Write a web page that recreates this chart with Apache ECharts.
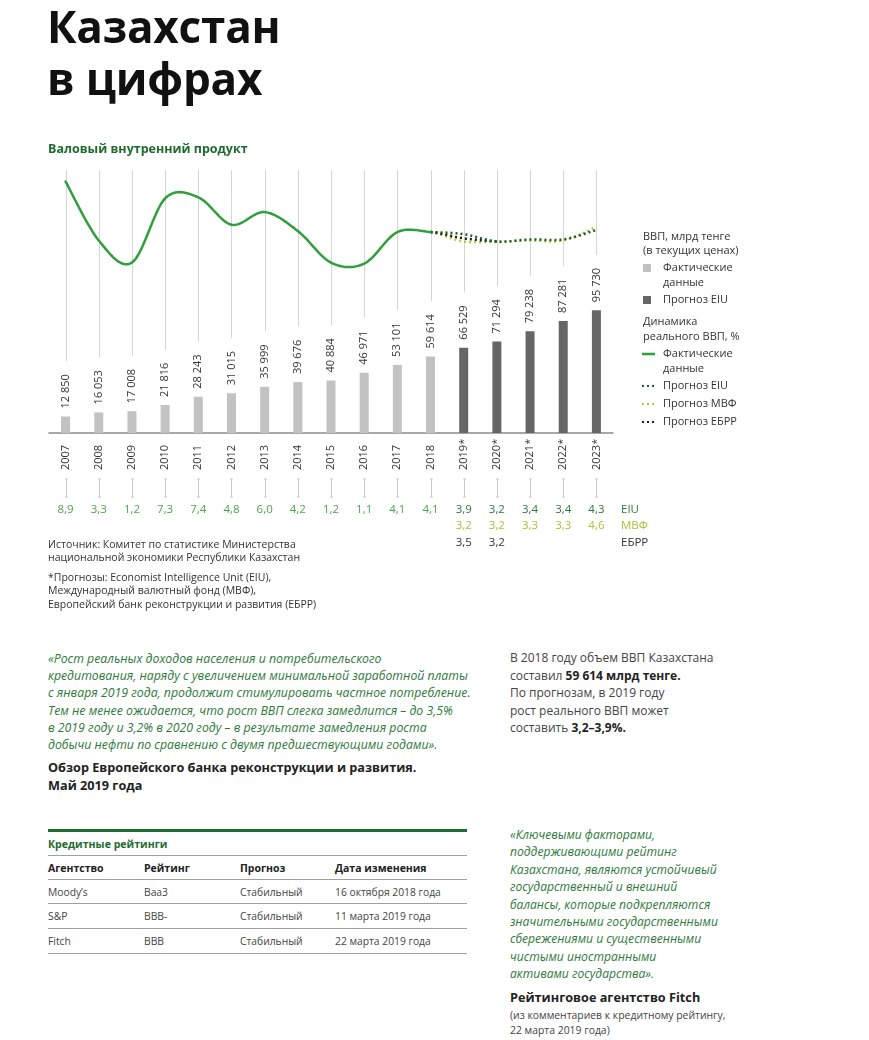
<!DOCTYPE html>
<html>
<head>
<meta charset="utf-8">
<script src="https://cdn.jsdelivr.net/npm/echarts@6/dist/echarts.min.js"></script>
<style>
  html,body{margin:0;padding:0;background:#fff;}
  body{width:869px;height:1040px;position:relative;overflow:hidden;font-family:"Open Sans","DejaVu Sans",sans-serif;}
  #chart{position:absolute;left:0;top:0;width:869px;height:620px;}
  .abs{position:absolute;white-space:nowrap;}
  .title{left:47px;top:0px;font-weight:700;font-size:44px;line-height:52px;color:#111;letter-spacing:-0.2px;}
  .sub{left:48px;top:141px;font-weight:700;font-size:12.5px;line-height:16px;color:#1e6b2e;}
  .src{left:48px;font-size:10.5px;line-height:13.3px;color:#333;}
  .quote{font-style:italic;color:#2e7a3a;}
  .attr{font-weight:700;font-size:12.7px;line-height:18px;color:#222;}
  .plain{font-size:12px;line-height:17.5px;color:#444;}
  .plain b{color:#222;}
  .rule{position:absolute;left:48px;width:419px;height:1px;background:#a0a0a0;}
  .row{position:absolute;left:0;width:869px;font-size:10.3px;line-height:14px;color:#444;}
  .row span{position:absolute;white-space:nowrap;}
  .row.h{font-weight:700;font-size:10.5px;color:#222;}
  .note{left:510px;top:1008px;font-size:10.4px;line-height:14.5px;color:#444;}
</style>
</head>
<body>
<div id="chart"></div>

<div class="abs title">Казахстан<br>в цифрах</div>
<div class="abs sub">Валовый внутренний продукт</div>

<div class="abs src" style="top:538px;">Источник: Комитет по статистике Министерства<br>национальной экономики Республики Казахстан</div>
<div class="abs src" style="top:571px;">*Прогнозы: Economist Intelligence Unit (EIU),<br>Международный валютный фонд (МВФ),<br>Европейский банк реконструкции и развития (ЕБРР)</div>

<div class="abs quote" style="left:48px;top:650px;font-size:12.3px;line-height:17.2px;">«Рост реальных доходов населения и потребительского<br>кредитования, наряду с увеличением минимальной заработной платы<br>с января 2019 года, продолжит стимулировать частное потребление.<br>Тем не менее ожидается, что рост ВВП слегка замедлится – до 3,5%<br>в 2019 году и 3,2% в 2020 году – в результате замедления роста<br>добычи нефти по сравнению с двумя предшествующими годами».</div>
<div class="abs attr" style="left:48px;top:758px;">Обзор Европейского банка реконструкции и развития.<br>Май 2019 года</div>

<div class="abs plain" style="left:510px;top:649px;">В 2018 году объем ВВП Казахстана<br>составил <b>59 614 млрд тенге.</b><br>По прогнозам, в 2019 году<br>рост реального ВВП может<br>составить <b>3,2–3,9%.</b></div>

<div style="position:absolute;left:48px;top:829px;width:419px;height:3px;background:#1e6b2e;"></div>
<div class="abs" style="left:48px;top:837px;font-weight:700;font-size:10.6px;line-height:14px;color:#1e6b2e;">Кредитные рейтинги</div>
<div class="rule" style="top:855px;"></div>
<div class="row h" style="top:861px;"><span style="left:48px">Агентство</span><span style="left:144px">Рейтинг</span><span style="left:240px">Прогноз</span><span style="left:335px">Дата изменения</span></div>
<div class="rule" style="top:879px;"></div>
<div class="row" style="top:885px;"><span style="left:48px">Moody’s</span><span style="left:144px">Baa3</span><span style="left:240px">Стабильный</span><span style="left:335px">16 октября 2018 года</span></div>
<div class="rule" style="top:903px;"></div>
<div class="row" style="top:909px;"><span style="left:48px">S&amp;P</span><span style="left:144px">BBB-</span><span style="left:240px">Стабильный</span><span style="left:335px">11 марта 2019 года</span></div>
<div class="rule" style="top:928px;"></div>
<div class="row" style="top:934px;"><span style="left:48px">Fitch</span><span style="left:144px">BBB</span><span style="left:240px">Стабильный</span><span style="left:335px">22 марта 2019 года</span></div>
<div class="rule" style="top:953px;"></div>

<div class="abs quote" style="left:510px;top:826px;font-size:12.1px;line-height:17.4px;">«Ключевыми факторами,<br>поддерживающими рейтинг<br>Казахстана, являются устойчивый<br>государственный и внешний<br>балансы, которые подкрепляются<br>значительными государственными<br>сбережениями и существенными<br>чистыми иностранными<br>активами государства».</div>
<div class="abs attr" style="left:510px;top:988px;">Рейтинговое агентство Fitch</div>
<div class="abs note">(из комментариев к кредитному рейтингу,<br>22 марта 2019 года)</div>

<script>
// ---------- data ----------
const years = ['2007','2008','2009','2010','2011','2012','2013','2014','2015','2016','2017','2018','2019*','2020*','2021*','2022*','2023*'];
const gdpNominal = [12850,16053,17008,21816,28243,31015,35999,39676,40884,46971,53101,59614,66529,71294,79238,87281,95730];
const forecastStart = 12; // index of 2019*
const growthActual = [8.9,3.3,1.2,7.3,7.4,4.8,6.0,4.2,1.2,1.1,4.1,4.1];
const growthEIU = [3.9,3.2,3.4,3.4,4.3];
const growthIMF = [3.2,3.2,3.3,3.3,4.6];
const growthEBRR = [3.5,3.2];
const rowLabels = ['EIU','МВФ','ЕБРР'];

// ---------- helpers ----------
const FONT = '"Open Sans", "DejaVu Sans", sans-serif';
const fmtK = v => String(v).replace(/\B(?=(\d{3})+(?!\d))/g, ' ');
const fmtG = v => v.toFixed(1).replace('.', ',');
const mctx = document.createElement('canvas').getContext('2d');
function textWidth(t, size){ mctx.font = size + 'px ' + FONT; return mctx.measureText(t).width; }
const lastIdx = growthActual.length - 1;

// series as [index, value] pairs; forecasts continue from the last actual point
const actualPts = growthActual.map((v,i)=>[i,v]);
const fc = arr => [[lastIdx, growthActual[lastIdx]]].concat(arr.map((v,k)=>[forecastStart + k, v]));
const eiuPts = fc(growthEIU), imfPts = fc(growthIMF), ebrrPts = fc(growthEBRR);
const prevPt = [lastIdx - 1, growthActual[lastIdx - 1]]; // tangent guide for forecasts

const C = {
  barActual:'#c2c2c2', barFc:'#666666', grid:'#d5d5d5', axis:'#8c8c8c',
  line:'#2f9e3b', eiu:'#1d5c2a', imf:'#b3cc3c', ebrr:'#1a1a1a',
  gHist:'#4aa84a', gEIU:'#2b7a3b', gIMF:'#a8c23a', gEBRR:'#333', text:'#333'
};

// uniform Catmull-Rom spline through pixel points
function spline(pts, prev){
  const P = prev ? [prev].concat(pts) : [pts[0]].concat(pts);
  P.push(pts[pts.length-1]);
  const out = [], seg = 16;
  for (let i = 1; i < P.length - 2; i++){
    const p0=P[i-1], p1=P[i], p2=P[i+1], p3=P[i+2];
    const m1=[(p2[0]-p0[0])/2,(p2[1]-p0[1])/2], m2=[(p3[0]-p1[0])/2,(p3[1]-p1[1])/2];
    for (let s = 0; s < seg; s++){
      const t=s/seg, t2=t*t, t3=t2*t;
      const h00=2*t3-3*t2+1, h10=t3-2*t2+t, h01=-2*t3+3*t2, h11=t3-t2;
      out.push([h00*p1[0]+h10*m1[0]+h01*p2[0]+h11*m2[0], h00*p1[1]+h10*m1[1]+h01*p2[1]+h11*m2[1]]);
    }
  }
  out.push(P[P.length-2]);
  return out;
}
function curveSeries(pts, color, dashed, z, prev){
  return {
    type:'custom', yAxisIndex:1, z, silent:true,
    data:pts, encode:{x:0, y:1},
    renderItem:function(params, api){
      if (params.dataIndex !== 0) return null;
      const px = pts.map(p => api.coord(p));
      const pv = prev ? api.coord(prev) : null;
      return {type:'polyline', shape:{points:spline(px, pv)},
        style:{stroke:color, lineWidth:2.5, fill:null, lineDash: dashed ? [2,3] : null, lineCap: dashed ? 'butt' : 'round', lineJoin:'round'}};
    }
  };
}

const chart = echarts.init(document.getElementById('chart'), null, {renderer:'canvas'});

const legendItems = [];
function lt(text, x, y){ legendItems.push({type:'text', x, y, silent:true, style:{text, fill:C.text, font:'11px ' + FONT, align:'left', verticalAlign:'middle'}}); }
lt('ВВП, млрд тенге', 643, 237);
lt('(в текущих ценах)', 643, 251);
legendItems.push({type:'rect', shape:{x:643, y:264, width:8, height:8}, style:{fill:C.barActual}});
lt('Фактические', 663, 268); lt('данные', 663, 283);
legendItems.push({type:'rect', shape:{x:643, y:296, width:8, height:8}, style:{fill:C.barFc}});
lt('Прогноз EIU', 663, 300);
lt('Динамика', 643, 322); lt('реального ВВП, %', 643, 337);
legendItems.push({type:'line', shape:{x1:642, y1:354, x2:655, y2:354}, style:{stroke:C.line, lineWidth:2.5}});
lt('Фактические', 663, 354); lt('данные', 663, 369);
[[C.eiu,'Прогноз EIU',386],[C.imf,'Прогноз МВФ',404],[C.ebrr,'Прогноз ЕБРР',422]].forEach(([c,t,y])=>{
  legendItems.push({type:'line', shape:{x1:642, y1:y, x2:655, y2:y}, style:{stroke:c, lineWidth:2, lineDash:[2,3]}});
  lt(t, 663, y);
});
[[rowLabels[0], C.gEIU, 510],[rowLabels[1], C.gIMF, 526],[rowLabels[2], C.gEBRR, 543]].forEach(([t,c,y])=>{
  legendItems.push({type:'text', x:621, y, style:{text:t, fill:c, font:'11.5px ' + FONT, align:'left', verticalAlign:'middle'}});
});

const option = {
  animation:false,
  grid:{left:49, top:170, width:564, height:263, containLabel:false},
  xAxis:{
    type:'category', data:years, boundaryGap:true,
    axisLine:{lineStyle:{color:C.axis, width:1.5}},
    axisTick:{show:false},
    axisLabel:{rotate:90, align:'left', verticalAlign:'middle', margin:37, color:C.text, fontSize:11, fontFamily:FONT, interval:0}
  },
  yAxis:[
    {type:'value', min:0, max:205000, show:false, splitLine:{show:false}},
    {type:'value', min:-15, max:10, show:false, splitLine:{show:false}}
  ],
  graphic:legendItems,
  series:[
    { // vertical guide lines and tick marks under years
      type:'custom', z:1, silent:true,
      data:gdpNominal.map((v,i)=>[i,v]),
      encode:{x:0, y:1},
      renderItem:function(params, api){
        const i = api.value(0), v = api.value(1);
        const top = api.coord([i, v]);
        const x = Math.round(top[0]) + 0.5;
        const cs = params.coordSys;
        const yEnd = top[1] - 8 - textWidth(fmtK(v), 11) - 13;
        const b = cs.y + cs.height;
        return {type:'group', children:[
          {type:'line', shape:{x1:x, y1:cs.y, x2:x, y2:yEnd}, style:{stroke:C.grid, lineWidth:1}},
          {type:'line', shape:{x1:x, y1:b+46, x2:x, y2:b+64}, style:{stroke:'#c9c9c9', lineWidth:1}},
          {type:'line', shape:{x1:x-1.5, y1:b+46, x2:x+1.5, y2:b+46}, style:{stroke:'#c9c9c9', lineWidth:1}},
          {type:'line', shape:{x1:x-1.5, y1:b+64, x2:x+1.5, y2:b+64}, style:{stroke:'#c9c9c9', lineWidth:1}}
        ]};
      }
    },
    { // growth values rows
      type:'custom', z:2, silent:true,
      data:years.map((y,i)=>[i,0]),
      encode:{x:0, y:1},
      renderItem:function(params, api){
        const i = api.value(0);
        const x = api.coord([i, 0])[0];
        const cs = params.coordSys;
        const b = cs.y + cs.height;
        const kids = [];
        const t = (val, c, dy) => kids.push({type:'text', x, y:b+dy, style:{text:fmtG(val), fill:c, font:'11.5px ' + FONT, align:'center', verticalAlign:'middle'}});
        if (i < forecastStart) t(growthActual[i], C.gHist, 77);
        else {
          const k = i - forecastStart;
          t(growthEIU[k], C.gEIU, 77);
          t(growthIMF[k], C.gIMF, 93);
          if (k < growthEBRR.length) t(growthEBRR[k], C.gEBRR, 110);
        }
        return {type:'group', children:kids};
      }
    },
    {
      type:'bar', yAxisIndex:0, barWidth:9, z:3,
      data:gdpNominal.map((v,i)=>({value:v, itemStyle:{color: i < forecastStart ? C.barActual : C.barFc}})),
      label:{show:true, position:'top', distance:8, rotate:90, align:'left', verticalAlign:'middle',
        color:C.text, fontSize:11, fontFamily:FONT, formatter:p=>fmtK(p.value)}
    },
    curveSeries(imfPts, C.imf, true, 4, prevPt),
    curveSeries(ebrrPts, C.ebrr, true, 5, prevPt),
    curveSeries(eiuPts, C.eiu, true, 6, prevPt),
    curveSeries(actualPts, C.line, false, 7, null)
  ]
};
chart.setOption(option);
</script>
</body>
</html>
